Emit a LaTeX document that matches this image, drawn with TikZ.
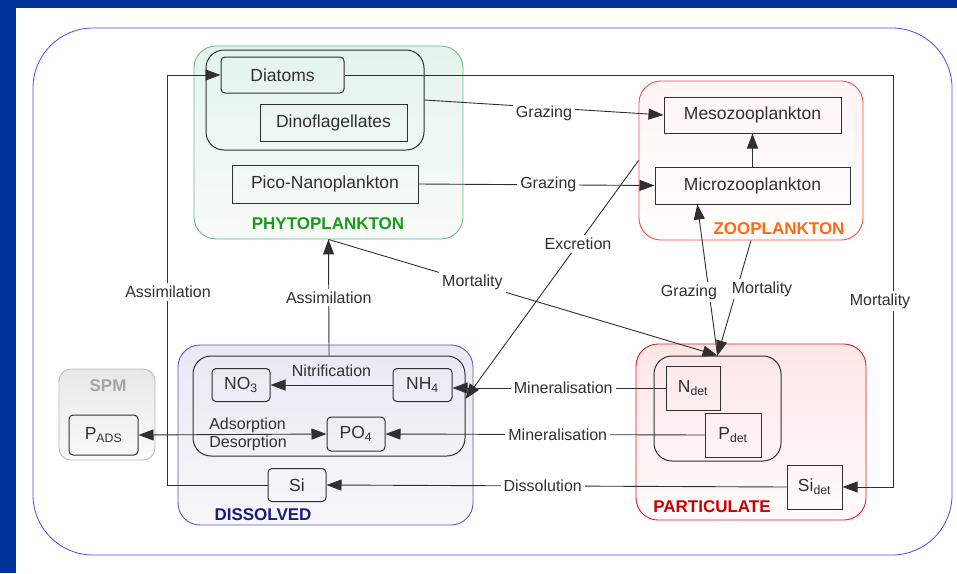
\documentclass[tikz,border=0pt]{standalone}
\usepackage{fontspec}
\setmainfont{Liberation Sans}
\usetikzlibrary{arrows.meta}

\definecolor{bgblue}{HTML}{003399}
\definecolor{outerblue}{HTML}{4A4AF5}
\definecolor{linegray}{HTML}{303030}
\definecolor{phyline}{HTML}{6DBB8E}
\definecolor{phytop}{HTML}{E3F4EA}
\definecolor{phybot}{HTML}{F8FBF9}
\definecolor{phytext}{HTML}{1A9A1A}
\definecolor{zooline}{HTML}{FF4D4D}
\definecolor{zootop}{HTML}{FFF5F5}
\definecolor{zoobot}{HTML}{FFFDFD}
\definecolor{zootext}{HTML}{FF6A13}
\definecolor{partline}{HTML}{E02020}
\definecolor{parttop}{HTML}{FCE6E6}
\definecolor{partbot}{HTML}{FFFBFB}
\definecolor{parttext}{HTML}{CC0000}
\definecolor{disline}{HTML}{5C5CC0}
\definecolor{distop}{HTML}{E8E9F2}
\definecolor{disbot}{HTML}{F7F7FA}
\definecolor{distext}{HTML}{1A1A80}
\definecolor{spmline}{HTML}{BBBBBB}
\definecolor{spmtop}{HTML}{E8E8E8}
\definecolor{spmbot}{HTML}{FAFAFA}
\definecolor{spmtext}{HTML}{A5A5A5}

\begin{document}
\begin{tikzpicture}[
            x=1pt, y=-1pt,
            font=\fontsize{16}{18}\selectfont,
            ebox/.style={draw=linegray, line width=1pt, inner sep=0pt, text=linegray, font=\fontsize{17.5}{20}\selectfont},
            rbox/.style={ebox, rounded corners=4pt},
            grp/.style={line width=0.9pt, rounded corners=22pt, inner sep=0pt},
            ingrp/.style={draw=linegray, line width=1pt, rounded corners=18pt, inner sep=0pt},
            tag/.style={font=\fontsize{17}{20}\selectfont\bfseries},
            lbl/.style={fill=white, inner sep=3pt, text=linegray},
            flow/.style={draw=linegray, line width=0.9pt, -{Triangle[length=15pt,width=11pt]}}
        ]
            \useasboundingbox (0,0) rectangle (957,573);
            % Frame
            \fill[bgblue] (0,0) rectangle (957,573);
            \fill[white] (16,8) rectangle (957,573);
            \draw[outerblue, line width=0.8pt, rounded corners=60pt] (33,28) rectangle (952,555);

            % Groups
            \node[grp, draw=phyline, top color=phytop, bottom color=phybot, minimum width=269pt, minimum height=193pt] (phyto) at (328.5,142.5) {};
            \node[grp, draw=zooline, top color=zootop, bottom color=zoobot, minimum width=224pt, minimum height=159pt] (zoo) at (751,160.5) {};
            \node[grp, draw=partline, top color=parttop, bottom color=partbot, minimum width=230pt, minimum height=176pt] (partic) at (751,432) {};
            \node[grp, draw=disline, top color=distop, bottom color=disbot, minimum width=295pt, minimum height=180pt] (dissolved) at (325.5,435) {};
            \node[grp, draw=spmline, top color=spmtop, bottom color=spmbot, minimum width=96pt, minimum height=91pt, rounded corners=12pt] (spm) at (107,414.5) {};
            \node[tag, text=phytext] (phytotag) at (328,224) {PHYTOPLANKTON};
            \node[tag, text=zootext] (zootag) at (779,229) {ZOOPLANKTON};
            \node[tag, text=parttext] (partictag) at (712,507) {PARTICULATE};
            \node[tag, text=distext] (dissolvedtag) at (263,515) {DISSOLVED};
            \node[tag, text=spmtext] (spmtag) at (108,386) {SPM};
            \node[ingrp, minimum width=218pt, minimum height=100pt] (diatgrp) at (315,100) {};
            \node[ingrp, minimum width=127pt, minimum height=105pt] (detgrp) at (717.5,408.5) {};
            \node[ingrp, minimum width=272pt, minimum height=100pt] (nutgrp) at (329,406) {};

            % Compartments
            \node[rbox, minimum width=123pt, minimum height=36pt] (diatoms) at (282.5,75) {Diatoms};
            \node[ebox, minimum width=147pt, minimum height=37pt] (dino) at (333.5,122.5) {Dinoflagellates};
            \node[ebox, minimum width=186pt, minimum height=38pt] (pico) at (325,184) {Pico-Nanoplankton};
            \node[ebox, minimum width=177pt, minimum height=36pt] (meso) at (752.5,115) {Mesozooplankton};
            \node[ebox, minimum width=195pt, minimum height=37pt] (micro) at (752.5,185.5) {Microzooplankton};
            \node[ebox, minimum width=54pt, minimum height=44pt] (ndet) at (693,388) {N\textsubscript{det}};
            \node[ebox, minimum width=56pt, minimum height=44pt] (pdet) at (733,435) {P\textsubscript{det}};
            \node[ebox, minimum width=55pt, minimum height=44pt] (sidet) at (814.5,487) {Si\textsubscript{det}};
            \node[rbox, minimum width=58pt, minimum height=33pt] (no3) at (241,385) {NO\textsubscript{3}};
            \node[rbox, minimum width=59pt, minimum height=33pt] (nh4) at (422.5,385) {NH\textsubscript{4}};
            \node[rbox, minimum width=58pt, minimum height=34pt] (po4) at (356,434) {PO\textsubscript{4}};
            \node[rbox, minimum width=58pt, minimum height=33pt] (si) at (297,485) {Si};
            \node[rbox, minimum width=69pt, minimum height=40pt] (pads) at (103.5,435) {P\textsubscript{ADS}};

            % Fluxes
            \coordinate (mortx) at (893,0);
            \coordinate (assimx) at (167,0);
            \draw[flow] (diatoms.east) -- (diatoms.east -| mortx) -- (sidet.east -| mortx) -- (sidet.east);
            \node[lbl] (mortlbl3) at (880,301) {Mortality};
            \draw[flow] (si.west) -- (si.west -| assimx) -- (diatoms.west -| assimx) -- (diatoms.west);
            \node[lbl] (assimlbl1) at (168,292) {Assimilation};
            \draw[flow] (sidet.west) -- node[lbl, pos=0.53] (dissollbl) {Dissolution} (si.east);
            \draw[flow] (nutgrp.north) -- node[lbl] (assimlbl2) {Assimilation} (phyto.south);
            \draw[flow] (phyto.south) -- node[lbl, pos=0.37] (mortlbl1) {Mortality} (detgrp.north);
            \draw[flow] (zoo.west) -- node[lbl, pos=0.35] (excrlbl) {Excretion} (nutgrp.3);
            \draw[flow] (ndet.west) -- node[lbl, pos=0.48] (minlbl1) {Mineralisation} (ndet.west -| nh4.east);
            \draw[flow] (pdet.west) -- node[lbl, pos=0.46] (minlbl2) {Mineralisation} (po4.east);
            \draw[flow] (nh4.west) -- node[above=5pt, text=linegray] (nitrlbl) {Nitrification} (no3.east);
            \draw[flow, {Triangle[length=15pt,width=11pt]}-{Triangle[length=15pt,width=11pt]}] (pads.east) -- (po4.west);
            \node[align=left, text=linegray] (adsdes) at (248,434.5) {Adsorption\\Desorption};
            \draw[flow] (micro.north) -- (meso.south);
            \draw[flow] (diatgrp.east) -- node[lbl, yshift=-6pt] (grazlbl1) {Grazing} (meso.west);
            \draw[flow] (pico.east) -- node[lbl, pos=0.55] (grazlbl2) {Grazing} (micro.west);
            \draw[flow] (zoo.south) -- (detgrp.north);
            \node[lbl] (mortlbl2) at (762,289) {Mortality};
            \draw[flow] (detgrp.north) -- (micro.199);
            \node[lbl, inner xsep=6pt] (grazlbl3) at (689,292) {Grazing};
        \end{tikzpicture}
\end{document}
